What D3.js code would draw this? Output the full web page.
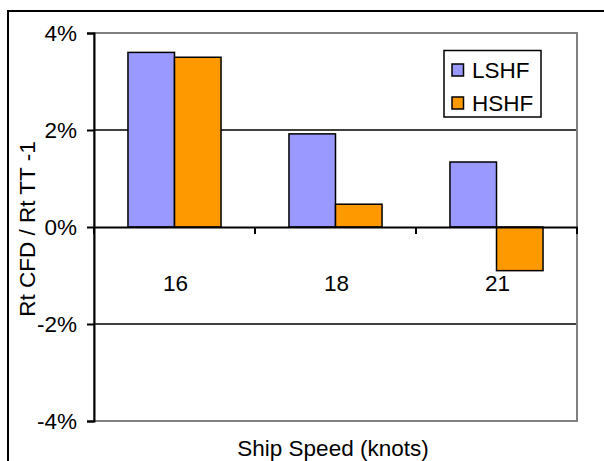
<!DOCTYPE html>
<html><head><meta charset="utf-8">
<script src="https://cdn.jsdelivr.net/npm/d3@7"></script>
<style>
html,body{margin:0;padding:0;background:#fff;}
svg text{font-family:"Liberation Sans",Arial,sans-serif;fill:#000;}
</style></head>
<body><svg id="c" width="604" height="461"></svg>
<script>
const categories = ["16", "18", "21"];
const seriesNames = ["LSHF", "HSHF"];
const LSHF = [0.036, 0.0192, 0.0134];
const HSHF = [0.035, 0.0047, -0.009];
const yTicks = [-0.04, -0.02, 0, 0.02, 0.04];
const yTickLabels = ["-4%", "-2%", "0%", "2%", "4%"];
const colors = ["#9999FF", "#FF9900"];

(function(){
const svg = d3.select("#c");
const FS = 22.5;
// outer frame
svg.append("rect").attr("x",8).attr("y",11).attr("width",800).attr("height",600)
  .attr("fill","none").attr("stroke","#000").attr("stroke-width",2);

const pL=94, pR=577, pT=33, pB=421;
const x = d3.scaleBand().domain(categories).range([pL,pR]).padding(0);
const xs = d3.scaleBand().domain(seriesNames).range([0,x.bandwidth()]).paddingInner(0).paddingOuter(0.73);
const y = d3.scaleLinear().domain([-0.04,0.04]).range([pB,pT]);

// gridlines
svg.append("g").selectAll("line").data(yTicks.filter(t=>t!==0 && Math.abs(t)<0.04)).join("line")
  .attr("x1",pL).attr("x2",pR).attr("y1",d=>y(d)).attr("y2",d=>y(d))
  .attr("stroke","#000").attr("stroke-width",1.5);
// plot border (gray)
svg.append("rect").attr("x",pL).attr("y",pT).attr("width",pR-pL).attr("height",pB-pT)
  .attr("fill","none").attr("stroke","#808080").attr("stroke-width",2);

// bars
const data = [];
categories.forEach((c,i)=>{
  data.push({c, s:"LSHF", v:LSHF[i], col:colors[0]});
  data.push({c, s:"HSHF", v:HSHF[i], col:colors[1]});
});
svg.append("g").selectAll("rect").data(data).join("rect")
  .attr("x",d=>x(d.c)+xs(d.s)).attr("width",xs.bandwidth())
  .attr("y",d=>y(Math.max(0,d.v))).attr("height",d=>Math.abs(y(d.v)-y(0)))
  .attr("fill",d=>d.col).attr("stroke","#000").attr("stroke-width",1.5);

// y axis
const yAxis = d3.axisLeft(y).tickValues(yTicks).tickSize(7).tickPadding(10)
  .tickFormat((d,i)=>yTickLabels[i]);
const ya = svg.append("g").attr("transform",`translate(${pL},0)`).call(yAxis);
ya.attr("font-size",FS).attr("font-family","Liberation Sans, Arial, sans-serif");
ya.select(".domain").attr("stroke","#000").attr("stroke-width",2);
ya.selectAll(".tick line").attr("stroke","#000").attr("stroke-width",2);
ya.selectAll(".tick text").attr("fill","#000");

// x axis at zero
const xAxis = d3.axisBottom(x).tickSize(0).tickPadding(0).tickFormat(()=>"");
const xa = svg.append("g").attr("transform",`translate(0,${y(0)})`).call(xAxis);
xa.select(".domain").attr("stroke","#000").attr("stroke-width",2);
// category boundary ticks
const bounds = categories.map(c=>x(c)).concat([pR]);
xa.selectAll(".btick").data(bounds).join("line").attr("class","btick")
  .attr("x1",d=>d).attr("x2",d=>d).attr("y1",0).attr("y2",7)
  .attr("stroke","#000").attr("stroke-width",2);
// category labels
svg.append("g").selectAll("text").data(categories).join("text")
  .attr("x",d=>x(d)+x.bandwidth()/2+1).attr("y",283).attr("dy","0.35em")
  .attr("text-anchor","middle").attr("font-size",FS).text(d=>d);

// axis titles
svg.append("text").attr("x",333).attr("y",448).attr("dy","0.35em").attr("text-anchor","middle")
  .attr("font-size",FS).text("Ship Speed (knots)");
svg.append("text").attr("transform","translate(27,229) rotate(-90)").attr("dy","0.35em")
  .attr("text-anchor","middle").attr("font-size",FS).text("Rt CFD / Rt TT -1");

// legend
const lg = svg.append("g");
lg.append("rect").attr("x",444).attr("y",50.5).attr("width",97).attr("height",66.5)
  .attr("fill","#fff").attr("stroke","#000").attr("stroke-width",1.5);
seriesNames.forEach((s,i)=>{
  const cy = 70 + i*33;
  lg.append("rect").attr("x",452).attr("y",cy-6).attr("width",11.5).attr("height",12)
    .attr("fill",colors[i]).attr("stroke","#000").attr("stroke-width",1.5);
  lg.append("text").attr("x",472).attr("y",cy).attr("dy","0.35em").attr("font-size",FS).text(s);
});
})();
</script></body></html>
